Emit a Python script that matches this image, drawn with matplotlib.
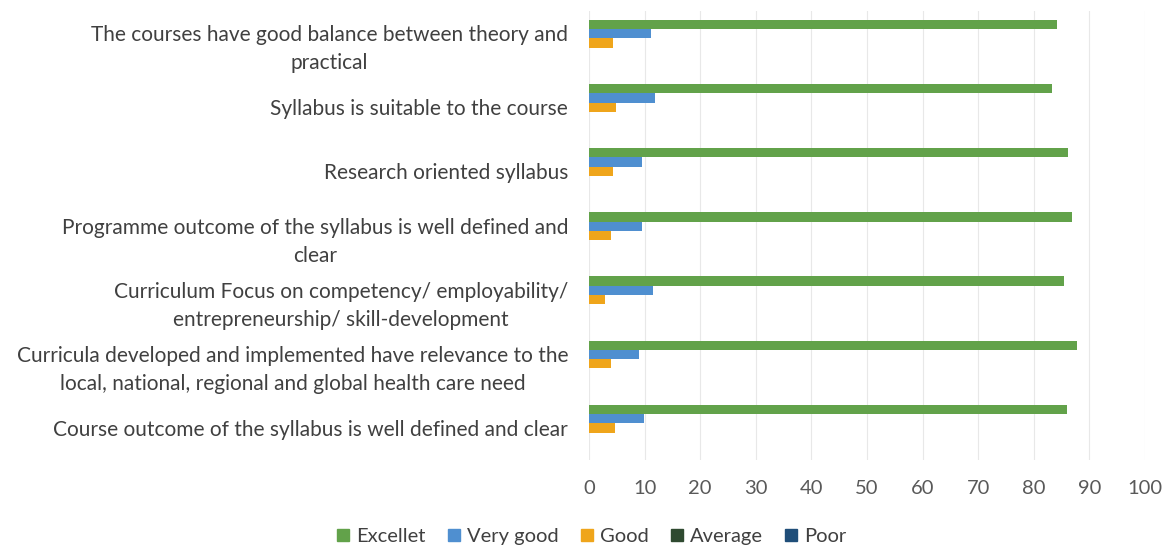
import numpy as np
import matplotlib
matplotlib.use("Agg")
from matplotlib import pyplot as plt
from matplotlib.lines import Line2D

categories = [
    "The courses have good balance between theory and\npractical",
    "Syllabus is suitable to the course",
    "Research oriented syllabus",
    "Programme outcome of the syllabus is well defined and\nclear",
    "Curriculum Focus on competency/ employability/\nentrepreneurship/ skill-development",
    "Curricula developed and implemented have relevance to the\nlocal, national, regional and global health care need",
    "Course outcome of the syllabus is well defined and clear",
]
series_names = ["Excellet", "Very good", "Good", "Average", "Poor"]
excellent = [84.1, 83.2, 86.1, 86.8, 85.5, 87.7, 86.0]
very_good = [11.2, 11.9, 9.5, 9.5, 11.5, 8.9, 9.8]
good = [4.4, 4.8, 4.4, 3.9, 2.9, 4.0, 4.6]
average = [0, 0, 0, 0, 0, 0, 0]
poor = [0, 0, 0, 0, 0, 0, 0]
xticks = [0, 10, 20, 30, 40, 50, 60, 70, 80, 90, 100]

colors = ["#62A24A", "#4F8FD0", "#EFA51B", "#2F4A30", "#1F4E79"]
plt.rcParams["font.family"] = ["Lato", "DejaVu Sans"]

fig = plt.figure(figsize=(11.65, 5.49), dpi=100)
ax = fig.add_axes([0.5056, 0.162, 0.4773, 0.818])

y = np.arange(len(categories))
h = 0.145
data = [excellent, very_good, good, average, poor]
for j in range(5):
    ax.barh(y + (j - 2) * h, data[j], height=h, color=colors[j], label=series_names[j])

ax.set_xlim(0, 100)
ax.set_ylim(6.5, -0.5)
ax.set_xticks(xticks)
ax.set_yticks(y)
ax.set_yticklabels(categories, fontsize=15, color="#404040")
for t in ax.get_yticklabels():
    t.set_multialignment("center")
    t.set_linespacing(1.5)
ax.tick_params(axis="y", length=0, pad=15)
ax.tick_params(axis="x", length=0, pad=14, labelsize=14.5, labelcolor="#595959")
for s in ax.spines.values():
    s.set_visible(False)
ax.set_axisbelow(True)
ax.xaxis.grid(True, color="#e8e8e8", linewidth=0.8)

handles = [Line2D([], [], marker="s", linestyle="none", markersize=9, color=c) for c in colors]
fig.legend(handles, series_names, loc="center", bbox_to_anchor=(0.508, 0.022), ncol=5,
           frameon=False, fontsize=14.5, handlelength=0.6, handletextpad=0.35,
           columnspacing=1.1, labelcolor="#404040")

fig.savefig("out.png", dpi=100)
